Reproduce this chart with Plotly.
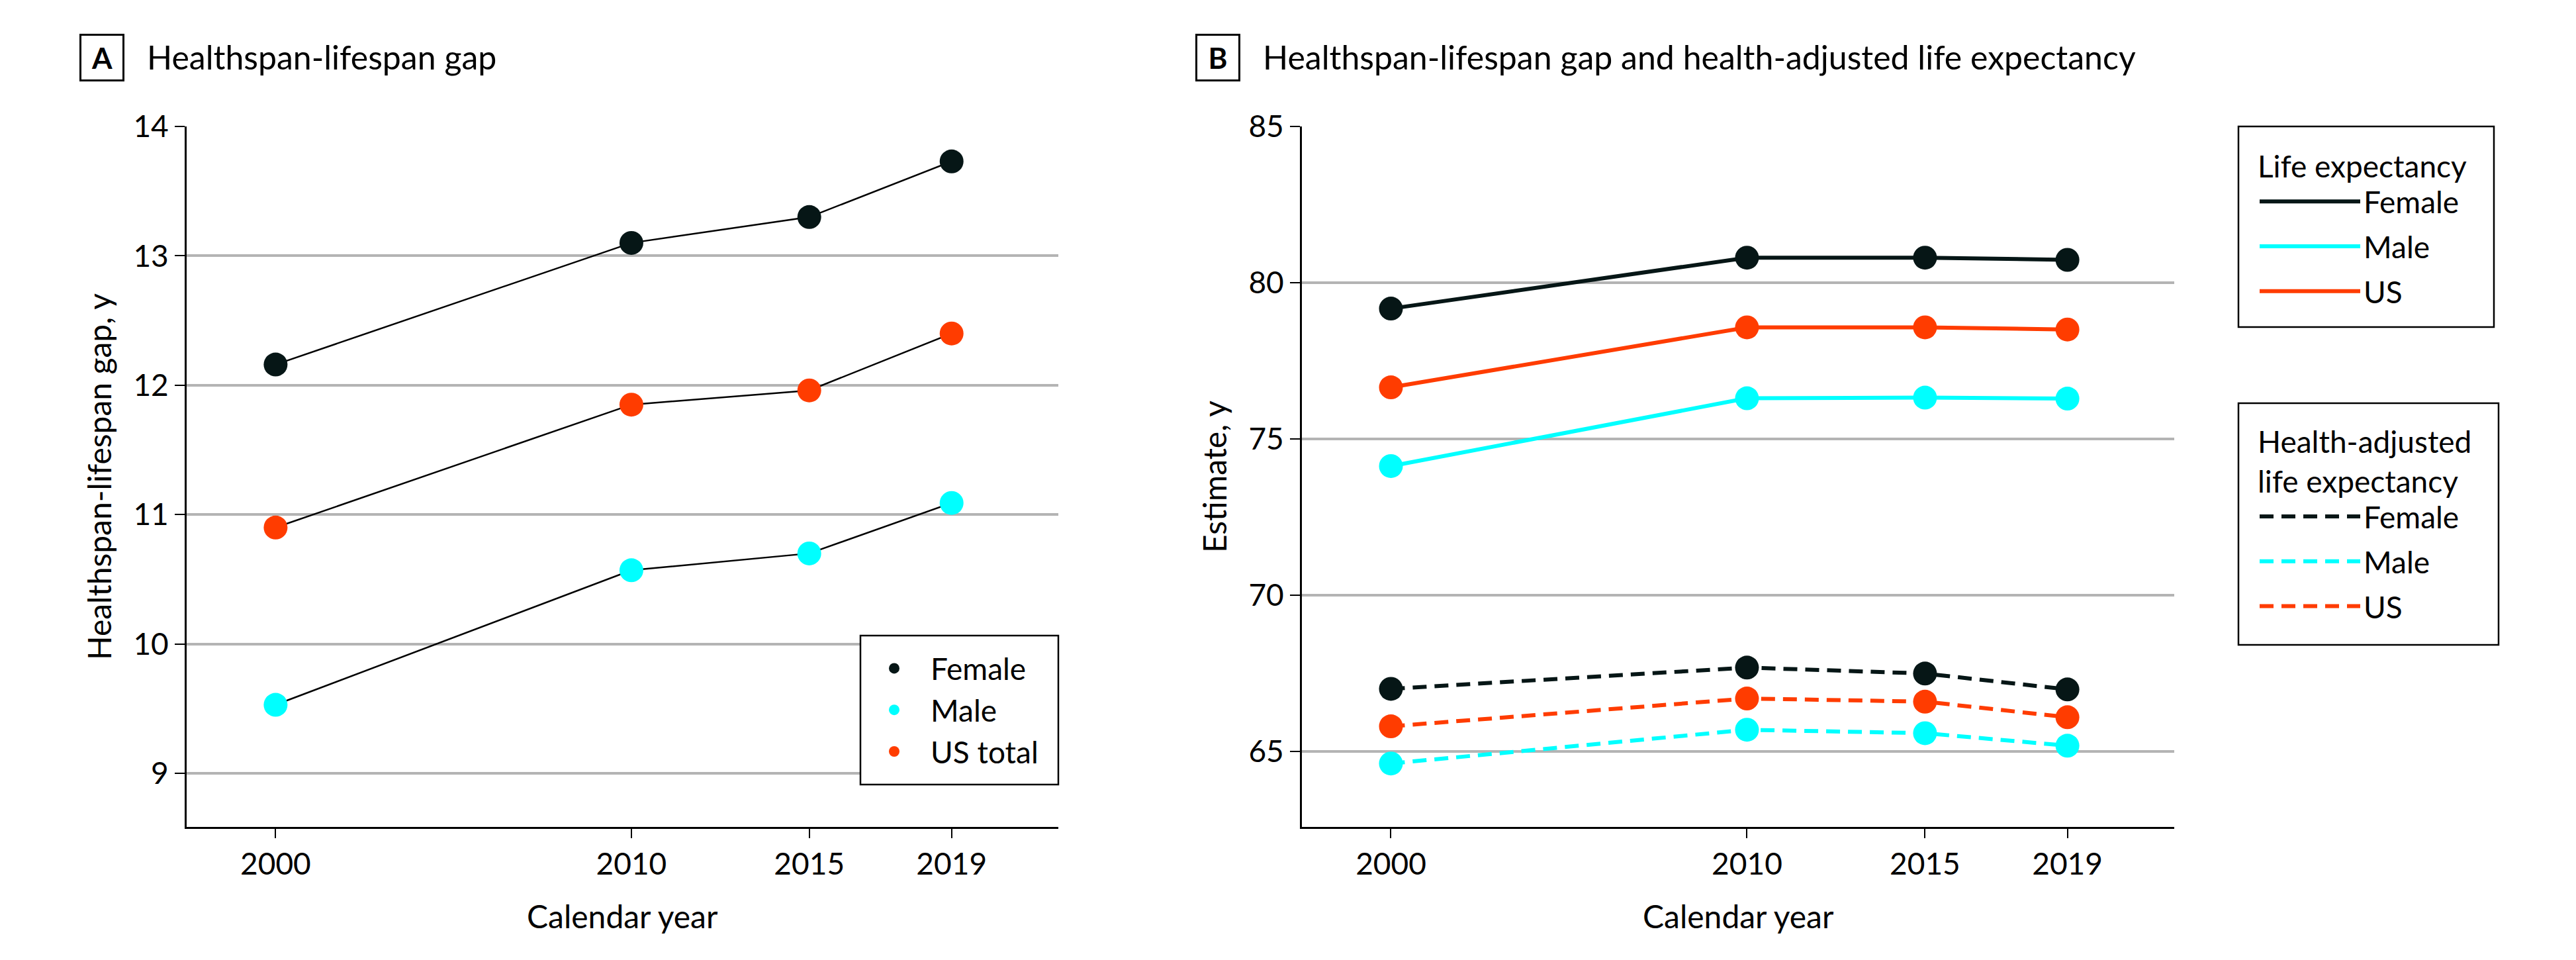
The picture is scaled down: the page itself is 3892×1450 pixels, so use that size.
import plotly.graph_objects as go

# ---------------- data ----------------
years = [2000, 2010, 2015, 2019]
year_labels = ["2000", "2010", "2015", "2019"]

# Panel A: healthspan-lifespan gap (years)
gap_female = [12.16, 13.10, 13.30, 13.73]
gap_male = [9.53, 10.57, 10.70, 11.09]
gap_us = [10.90, 11.85, 11.96, 12.40]
gap_ticks = [9, 10, 11, 12, 13, 14]

# Panel B: life expectancy and health-adjusted life expectancy (years)
le_female = [79.17, 80.80, 80.80, 80.73]
le_male = [74.13, 76.30, 76.32, 76.29]
le_us = [76.65, 78.57, 78.57, 78.50]
hale_female = [67.00, 67.68, 67.49, 66.98]
hale_male = [64.61, 65.69, 65.58, 65.18]
hale_us = [65.80, 66.69, 66.59, 66.09]
est_ticks = [65, 70, 75, 80, 85]

# ---------------- style ----------------
W, H = 3892, 1450
FONT = "Lato"
C_F = "#061616"
C_M = "#00FFFF"
C_US = "#FF3C00"
GRID = "#B4B4B4"


def px(x):
    return x / W


def py(y):
    return 1 - y / H


fig = go.Figure()

# Panel A connector lines
for vals in (gap_female, gap_male, gap_us):
    fig.add_trace(go.Scatter(x=years, y=vals, mode="lines",
                             line=dict(color="black", width=2.5),
                             showlegend=False, hoverinfo="skip",
                             xaxis="x", yaxis="y"))
# Panel A markers
for name, vals, col in (("Female", gap_female, C_F),
                        ("Male", gap_male, C_M),
                        ("US total", gap_us, C_US)):
    fig.add_trace(go.Scatter(x=years, y=vals, mode="markers", name=name,
                             marker=dict(size=36, color=col),
                             legend="legend", legendgroup="a" + name,
                             xaxis="x", yaxis="y"))

# Panel B lines
for name, vals, col in (("Female", le_female, C_F),
                        ("Male", le_male, C_M),
                        ("US", le_us, C_US)):
    fig.add_trace(go.Scatter(x=years, y=vals, mode="lines", name=name,
                             line=dict(color=col, width=6),
                             legend="legend2", legendgroup="le" + name,
                             xaxis="x2", yaxis="y2"))
for name, vals, col in (("Female", hale_female, C_F),
                        ("Male", hale_male, C_M),
                        ("US", hale_us, C_US)):
    fig.add_trace(go.Scatter(x=years, y=vals, mode="lines", name=name,
                             line=dict(color=col, width=6, dash="21px,12px"),
                             legend="legend3", legendgroup="hale" + name,
                             xaxis="x2", yaxis="y2"))
# Panel B markers
for vals, col in ((le_female, C_F), (le_male, C_M), (le_us, C_US),
                  (hale_female, C_F), (hale_male, C_M), (hale_us, C_US)):
    fig.add_trace(go.Scatter(x=years, y=vals, mode="markers",
                             marker=dict(size=36, color=col),
                             showlegend=False, xaxis="x2", yaxis="y2"))

tickfont = dict(family=FONT, size=46, color="black")

xcommon = dict(range=[1997.5, 2022], tickvals=years, ticktext=year_labels,
               ticks="outside", ticklen=14, tickwidth=2, tickcolor="black",
               showline=True, linecolor="black", linewidth=3,
               showgrid=False, zeroline=False, tickfont=tickfont,
               automargin=False)
ycommon = dict(ticks="outside", ticklen=15, tickwidth=2, tickcolor="black",
               showline=True, linecolor="black", linewidth=3,
               showgrid=True, gridcolor=GRID, gridwidth=4,
               zeroline=False, tickfont=tickfont, automargin=False)

lfont = dict(family=FONT, size=46, color="black")
legend_common = dict(borderwidth=0, bgcolor="rgba(0,0,0,0)", font=lfont)

fig.update_layout(
    width=W, height=H,
    margin=dict(l=0, r=0, t=0, b=0, autoexpand=False),
    paper_bgcolor="white", plot_bgcolor="white",
    font=dict(family=FONT, color="black"),
    xaxis=dict(domain=[px(282), px(1599)], anchor="y", **xcommon),
    yaxis=dict(domain=[py(1249), py(191)], anchor="x",
               range=[8.586, 14], tickvals=gap_ticks, **ycommon),
    xaxis2=dict(domain=[px(1967), px(3285)], anchor="y2", **xcommon),
    yaxis2=dict(domain=[py(1249), py(191)], anchor="x2",
                range=[62.58, 85], tickvals=est_ticks, **ycommon),
    legend=dict(x=px(1296), xanchor="left", y=py(973), yanchor="top",
                itemwidth=100, tracegroupgap=0, **legend_common),
    legend2=dict(x=px(3409), xanchor="left", y=py(208), yanchor="top",
                 itemwidth=152, tracegroupgap=5,
                 title=dict(text="Life expectancy", font=lfont),
                 **legend_common),
    legend3=dict(x=px(3409), xanchor="left", y=py(624), yanchor="top",
                 itemwidth=152, tracegroupgap=5,
                 title=dict(text="Health-adjusted<br>life expectancy",
                            font=lfont),
                 **legend_common),
)

# legend frames
frames = [(1300, 960, 1599, 1185), (3382, 191, 3768, 494),
          (3382, 609, 3775, 974)]
fig.update_layout(shapes=[
    dict(type="rect", xref="paper", yref="paper", layer="above",
         x0=px(x0), x1=px(x1), y0=py(y1), y1=py(y0),
         line=dict(color="black", width=2.5), fillcolor="white")
    for x0, y0, x1, y1 in frames
])

ann_font = dict(family=FONT, size=50, color="black")
annotations = [
    # panel letters
    dict(x=px(153.5), y=py(86.5), text="<b>A</b>", width=62, height=66,
         bordercolor="black", borderwidth=3, borderpad=0,
         font=dict(family=FONT, size=44, color="black")),
    dict(x=px(1840), y=py(86.5), text="<b>B</b>", width=62, height=66,
         bordercolor="black", borderwidth=3, borderpad=0,
         font=dict(family=FONT, size=44, color="black")),
    # panel titles
    dict(x=px(220), y=py(86), xanchor="left", text="Healthspan-lifespan gap",
         font=ann_font),
    dict(x=px(1906), y=py(86), xanchor="left",
         text="Healthspan-lifespan gap and health-adjusted life expectancy",
         font=ann_font),
    # axis titles
    dict(x=px(149), y=py(720), text="Healthspan-lifespan gap, y",
         textangle=-90, font=dict(family=FONT, size=48, color="black")),
    dict(x=px(1834), y=py(720), text="Estimate, y",
         textangle=-90, font=dict(family=FONT, size=48, color="black")),
    dict(x=px(940), y=py(1383), text="Calendar year",
         font=dict(family=FONT, size=48, color="black")),
    dict(x=px(2626), y=py(1383), text="Calendar year",
         font=dict(family=FONT, size=48, color="black")),
]
for a in annotations:
    a.setdefault("xanchor", "center")
    a.setdefault("yanchor", "middle")
    a["xref"] = "paper"
    a["yref"] = "paper"
    a["showarrow"] = False
fig.update_layout(annotations=annotations)

fig.write_html("out.html",
               config={"displayModeBar": False},
               post_script="document.body.style.margin='0px';")
